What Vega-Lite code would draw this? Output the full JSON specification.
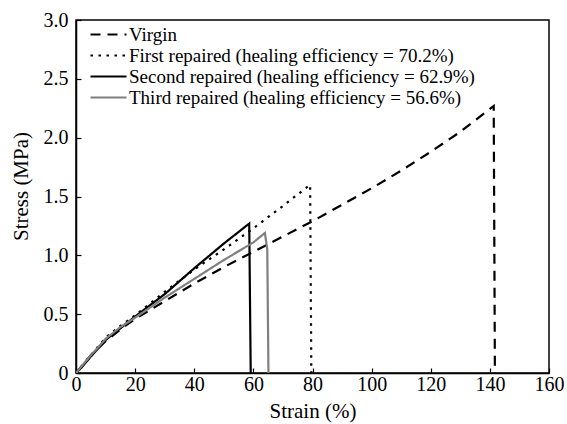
{
  "$schema": "https://vega.github.io/schema/vega-lite/v6.json",
  "autosize": {"type": "none"},
  "width": 473,
  "height": 353,
  "padding": {"left": 76, "top": 20, "right": 18, "bottom": 51},
  "background": "white",
  "config": {
    "font": "Liberation Serif",
    "view": {"stroke": "black", "strokeWidth": 1.5},
    "axis": {
      "grid": false,
      "domainColor": "black",
      "domainWidth": 1.5,
      "tickColor": "black",
      "tickWidth": 1.2,
      "labelColor": "black",
      "titleColor": "black",
      "labelFontSize": 20,
      "titleFontSize": 21,
      "titleFontWeight": "normal",
      "labelFont": "Liberation Serif",
      "titleFont": "Liberation Serif"
    },
    "legend": {"labelFont": "Liberation Serif"}
  },
  "data": {
    "values": [
      {"series": "Virgin", "o": 0, "strain": 0, "stress": 0},
      {"series": "Virgin", "o": 1, "strain": 2, "stress": 0.06},
      {"series": "Virgin", "o": 2, "strain": 5, "stress": 0.15},
      {"series": "Virgin", "o": 3, "strain": 10, "stress": 0.27},
      {"series": "Virgin", "o": 4, "strain": 15, "stress": 0.37},
      {"series": "Virgin", "o": 5, "strain": 20, "stress": 0.46},
      {"series": "Virgin", "o": 6, "strain": 30, "stress": 0.61},
      {"series": "Virgin", "o": 7, "strain": 40, "stress": 0.76},
      {"series": "Virgin", "o": 8, "strain": 50, "stress": 0.90},
      {"series": "Virgin", "o": 9, "strain": 60, "stress": 1.03},
      {"series": "Virgin", "o": 10, "strain": 70, "stress": 1.16},
      {"series": "Virgin", "o": 11, "strain": 80, "stress": 1.29},
      {"series": "Virgin", "o": 12, "strain": 90, "stress": 1.43},
      {"series": "Virgin", "o": 13, "strain": 100, "stress": 1.57},
      {"series": "Virgin", "o": 14, "strain": 110, "stress": 1.72},
      {"series": "Virgin", "o": 15, "strain": 120, "stress": 1.88},
      {"series": "Virgin", "o": 16, "strain": 130, "stress": 2.05},
      {"series": "Virgin", "o": 17, "strain": 141.3, "stress": 2.27},
      {"series": "Virgin", "o": 18, "strain": 141.7, "stress": 0},
      {"series": "First repaired (healing efficiency = 70.2%)", "o": 0, "strain": 0, "stress": 0},
      {"series": "First repaired (healing efficiency = 70.2%)", "o": 1, "strain": 2, "stress": 0.06},
      {"series": "First repaired (healing efficiency = 70.2%)", "o": 2, "strain": 5, "stress": 0.15},
      {"series": "First repaired (healing efficiency = 70.2%)", "o": 3, "strain": 10, "stress": 0.30},
      {"series": "First repaired (healing efficiency = 70.2%)", "o": 4, "strain": 15, "stress": 0.40},
      {"series": "First repaired (healing efficiency = 70.2%)", "o": 5, "strain": 20, "stress": 0.49},
      {"series": "First repaired (healing efficiency = 70.2%)", "o": 6, "strain": 30, "stress": 0.69},
      {"series": "First repaired (healing efficiency = 70.2%)", "o": 7, "strain": 40, "stress": 0.88},
      {"series": "First repaired (healing efficiency = 70.2%)", "o": 8, "strain": 50, "stress": 1.05},
      {"series": "First repaired (healing efficiency = 70.2%)", "o": 9, "strain": 60, "stress": 1.23},
      {"series": "First repaired (healing efficiency = 70.2%)", "o": 10, "strain": 70, "stress": 1.42},
      {"series": "First repaired (healing efficiency = 70.2%)", "o": 11, "strain": 79.2, "stress": 1.60},
      {"series": "First repaired (healing efficiency = 70.2%)", "o": 12, "strain": 79.6, "stress": 0},
      {"series": "Second repaired (healing efficiency = 62.9%)", "o": 0, "strain": 0, "stress": 0},
      {"series": "Second repaired (healing efficiency = 62.9%)", "o": 1, "strain": 2, "stress": 0.05},
      {"series": "Second repaired (healing efficiency = 62.9%)", "o": 2, "strain": 5, "stress": 0.14},
      {"series": "Second repaired (healing efficiency = 62.9%)", "o": 3, "strain": 10, "stress": 0.28},
      {"series": "Second repaired (healing efficiency = 62.9%)", "o": 4, "strain": 15, "stress": 0.38},
      {"series": "Second repaired (healing efficiency = 62.9%)", "o": 5, "strain": 20, "stress": 0.48},
      {"series": "Second repaired (healing efficiency = 62.9%)", "o": 6, "strain": 30, "stress": 0.67},
      {"series": "Second repaired (healing efficiency = 62.9%)", "o": 7, "strain": 40, "stress": 0.89},
      {"series": "Second repaired (healing efficiency = 62.9%)", "o": 8, "strain": 50, "stress": 1.10},
      {"series": "Second repaired (healing efficiency = 62.9%)", "o": 9, "strain": 58.6, "stress": 1.27},
      {"series": "Second repaired (healing efficiency = 62.9%)", "o": 10, "strain": 59.1, "stress": 0},
      {"series": "Third repaired (healing efficiency = 56.6%)", "o": 0, "strain": 0, "stress": 0},
      {"series": "Third repaired (healing efficiency = 56.6%)", "o": 1, "strain": 2, "stress": 0.06},
      {"series": "Third repaired (healing efficiency = 56.6%)", "o": 2, "strain": 5, "stress": 0.15},
      {"series": "Third repaired (healing efficiency = 56.6%)", "o": 3, "strain": 10, "stress": 0.29},
      {"series": "Third repaired (healing efficiency = 56.6%)", "o": 4, "strain": 15, "stress": 0.39},
      {"series": "Third repaired (healing efficiency = 56.6%)", "o": 5, "strain": 20, "stress": 0.47},
      {"series": "Third repaired (healing efficiency = 56.6%)", "o": 6, "strain": 30, "stress": 0.64},
      {"series": "Third repaired (healing efficiency = 56.6%)", "o": 7, "strain": 40, "stress": 0.80},
      {"series": "Third repaired (healing efficiency = 56.6%)", "o": 8, "strain": 50, "stress": 0.96},
      {"series": "Third repaired (healing efficiency = 56.6%)", "o": 9, "strain": 60, "stress": 1.11},
      {"series": "Third repaired (healing efficiency = 56.6%)", "o": 10, "strain": 63.9, "stress": 1.19},
      {"series": "Third repaired (healing efficiency = 56.6%)", "o": 11, "strain": 64.7, "stress": 1.05},
      {"series": "Third repaired (healing efficiency = 56.6%)", "o": 12, "strain": 65.1, "stress": 0}
    ]
  },
  "mark": {"type": "line", "strokeWidth": 2.2, "clip": true},
  "encoding": {
    "x": {
      "field": "strain", "type": "quantitative",
      "scale": {"domain": [0, 160], "nice": false},
      "axis": {"title": "Strain (%)", "values": [0,20,40,60,80,100,120,140,160], "tickSize": -5, "labelPadding": 6, "titlePadding": 6, "labelFlush": false}
    },
    "y": {
      "field": "stress", "type": "quantitative",
      "scale": {"domain": [0, 3], "nice": false},
      "axis": {"title": "Stress (MPa)", "values": [0,0.5,1,1.5,2,2.5,3], "labelExpr": "datum.value == 0 ? '0' : format(datum.value, '.1f')", "tickSize": -5, "labelPadding": 13, "titlePadding": 12, "titleY": 166, "labelFlush": false}
    },
    "order": {"field": "o", "type": "quantitative"},
    "color": {
      "field": "series", "type": "nominal",
      "sort": ["Virgin", "First repaired (healing efficiency = 70.2%)", "Second repaired (healing efficiency = 62.9%)", "Third repaired (healing efficiency = 56.6%)"],
      "scale": {
        "domain": ["Virgin", "First repaired (healing efficiency = 70.2%)", "Second repaired (healing efficiency = 62.9%)", "Third repaired (healing efficiency = 56.6%)"],
        "range": ["#000000", "#000000", "#000000", "#808080"]
      },
      "legend": {
        "title": null,
        "orient": "none",
        "legendX": 22,
        "legendY": 4,
        "padding": 0,
        "symbolType": "M-2,0H2",
        "symbolSize": 324,
        "symbolStrokeWidth": 2.2,
        "symbolFillColor": "transparent",
        "labelFontSize": 19,
        "labelColor": "black",
        "labelLimit": 500,
        "rowPadding": -3,
        "labelOffset": 10
      }
    },
    "strokeDash": {
      "field": "series", "type": "nominal",
      "scale": {
        "domain": ["Virgin", "First repaired (healing efficiency = 70.2%)", "Second repaired (healing efficiency = 62.9%)", "Third repaired (healing efficiency = 56.6%)"],
        "range": [[10, 7], [2.5, 5.5], [1, 0], [1, 0]]
      },
      "legend": null
    }
  }
}
